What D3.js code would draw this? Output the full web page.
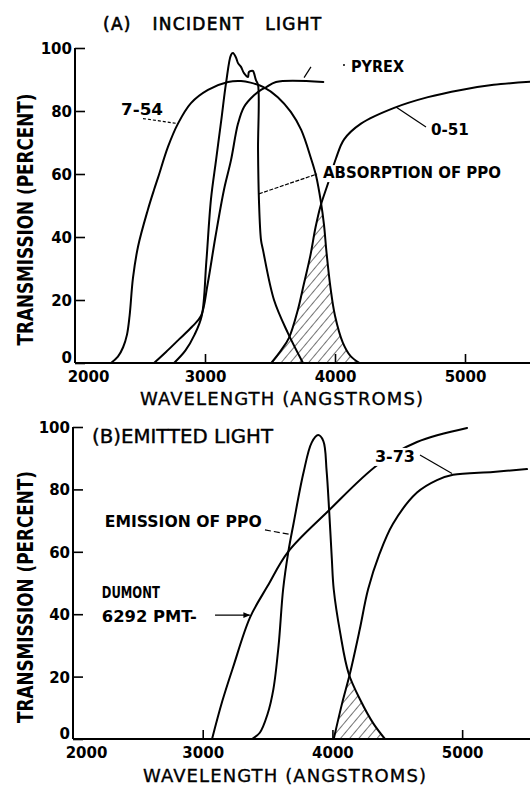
<!DOCTYPE html>
<html>
<head>
<meta charset="utf-8">
<script src="https://cdn.jsdelivr.net/npm/d3@7"></script>
<style>
  html, body { margin: 0; padding: 0; background: #fff; }
  svg { display: block; }
</style>
</head>
<body>
<svg id="chart" width="530" height="787"></svg>
<script>
// Axis ticks shared by both panels
const wavelengthTicks = [2000, 3000, 4000, 5000];
const percentTicks = [0, 20, 40, 60, 80, 100];

// (A) Incident light — [wavelength (Å), transmission (%)]
const filter754 = [
  [2277, 0], [2330, 2], [2370, 5], [2400, 9], [2420, 15], [2446, 27], [2485, 37],
  [2560, 48.6], [2608, 55], [2640, 59], [2715, 68.6], [2792, 76], [2892, 82.5],
  [3023, 86.7], [3177, 89.2], [3277, 89.5], [3350, 89], [3450, 87.6], [3560, 84.4],
  [3660, 79.7], [3740, 74], [3815, 65], [3854, 59.5], [3892, 51], [3915, 44],
  [3935, 35], [3965, 24], [4000, 15], [4060, 6.5], [4120, 2.2], [4190, 0]
];
const pyrexGlass = [
  [2608, 0], [2700, 3.5], [2800, 7.5], [2900, 11.5], [2970, 15], [3020, 25],
  [3080, 40], [3146, 55], [3200, 64.4], [3254, 76], [3300, 81.3], [3377, 85],
  [3431, 86.7], [3469, 87.5], [3546, 89.2], [3910, 89.2]
];
const ppoAbsorption = [
  [2762, 0], [2850, 4], [2920, 9], [2975, 15], [3010, 32], [3046, 52],
  [3085, 64.4], [3125, 77], [3162, 88.9], [3200, 97.8], [3215, 98.4], [3238, 97],
  [3254, 95.2], [3277, 94], [3300, 92], [3331, 90.8], [3338, 92.4], [3369, 92.7],
  [3377, 92], [3392, 89.8], [3408, 88.3], [3408, 67.6], [3415, 51.7], [3431, 39],
  [3446, 35.9], [3531, 20], [3638, 9.5], [3754, 0]
];
const filter051 = [
  [3510, 0], [3585, 4], [3646, 8], [3715, 17], [3760, 25], [3810, 34], [3850, 43],
  [3890, 50], [3946, 57], [4008, 65], [4070, 71], [4200, 76], [4455, 81],
  [4715, 84.4], [4970, 86.7], [5220, 88.3], [5500, 89.3]
];

// (B) Emitted light — [wavelength (Å), transmission (%)]
const ppoEmission = [
  [3380, 0], [3440, 2], [3500, 8], [3545, 16], [3585, 30], [3620, 48], [3660, 60],
  [3700, 69], [3775, 85], [3840, 95], [3890, 97.4], [3930, 95.5], [3955, 86],
  [3975, 73], [3995, 58], [4010, 48], [4060, 34], [4125, 21], [4215, 12.5],
  [4315, 5], [4405, 0]
];
const dumont6292 = [
  [3072, 0], [3150, 12], [3234, 23], [3365, 39], [3500, 49], [3658, 60],
  [3966, 73], [4352, 88], [4652, 95.2], [5038, 99.7]
];
const filter373 = [
  [4010, 0], [4075, 11.5], [4135, 21], [4210, 35], [4275, 48], [4360, 59],
  [4467, 69], [4652, 79], [4806, 83], [4930, 84.7], [5238, 85.6], [5500, 86.5]
];

const svg = d3.select("#chart");
const defs = svg.append("defs");

defs.append("pattern")
  .attr("id", "hatch")
  .attr("patternUnits", "userSpaceOnUse")
  .attr("width", 7).attr("height", 7)
  .attr("patternTransform", "rotate(40)")
  .append("line")
  .attr("x1", 0).attr("y1", 0).attr("x2", 0).attr("y2", 7)
  .attr("stroke", "#000").attr("stroke-width", 1.1);

defs.append("marker")
  .attr("id", "arrow")
  .attr("viewBox", "0 0 10 10")
  .attr("refX", 9).attr("refY", 5)
  .attr("markerWidth", 7).attr("markerHeight", 7)
  .attr("markerUnits", "userSpaceOnUse")
  .attr("orient", "auto")
  .append("path")
  .attr("d", "M0,1 L10,5 L0,9 Z")
  .attr("fill", "#000");

const LABEL_FONT = "'DejaVu Sans', sans-serif";
const TICK_FONT = "'DejaVu Sans', sans-serif";

function drawPanel(cfg) {
  const g = svg.append("g");
  const x = d3.scaleLinear().domain([2000, 5500]).range([cfg.left, cfg.right]);
  const y = d3.scaleLinear().domain([0, 100]).range([cfg.bottom, cfg.top]);

  const line = d3.line()
    .x(d => x(d[0])).y(d => y(d[1]))
    .curve(d3.curveCatmullRom.alpha(0.5));
  const area = d3.area()
    .x(d => x(d[0])).y0(y(0)).y1(d => y(d[1]))
    .curve(d3.curveCatmullRom.alpha(0.5));

  // Overlap of the two filter passbands, hatched
  const clipId = "clip-" + cfg.id;
  defs.append("clipPath").attr("id", clipId)
    .append("path").attr("d", area(cfg.overlap[0]));
  g.append("path")
    .attr("d", area(cfg.overlap[1]))
    .attr("fill", "url(#hatch)")
    .attr("clip-path", `url(#${clipId})`);

  // Axes
  const yAxis = d3.axisLeft(y).tickValues(percentTicks)
    .tickFormat(d3.format("d"))
    .tickSize(-10).tickSizeOuter(0).tickPadding(3);
  const gy = g.append("g").attr("transform", `translate(${cfg.left},0)`).call(yAxis);
  const xAxis = d3.axisBottom(x).tickValues(wavelengthTicks)
    .tickFormat(d3.format("d"))
    .tickSize(-9).tickSizeOuter(0).tickPadding(8);
  const gx = g.append("g").attr("transform", `translate(0,${cfg.bottom})`).call(xAxis);

  [gx, gy].forEach(a => {
    a.select(".domain").attr("stroke", "#000").attr("stroke-width", 2);
    a.selectAll(".tick line").attr("stroke", "#000").attr("stroke-width", 1.6);
    a.selectAll(".tick text")
      .attr("fill", "#000")
      .style("font-family", TICK_FONT)
      .style("font-weight", "bold")
      .style("font-size", "15px");
  });
  gx.selectAll(".tick").filter(d => d === 2000).select("line").remove();
  gx.selectAll(".tick text").attr("dx", d => d === 2000 ? 13 : 0);
  gy.selectAll(".tick text").attr("dy", d => d === 0 ? "-0.05em" : "0.36em");
  // x axis runs on to the page edge
  gx.select(".domain").attr("d", `M${cfg.left},0H530`);
  gy.select(".domain").attr("d", `M0,${cfg.bottom}V${cfg.top}`);

  // Curves
  cfg.series.forEach(s => {
    g.append("path")
      .attr("d", line(s))
      .attr("fill", "none")
      .attr("stroke", "#000")
      .attr("stroke-width", 2)
      .attr("stroke-linejoin", "round")
      .attr("stroke-linecap", "round");
  });

  // Axis titles
  g.append("text")
    .attr("transform", `translate(33,${(cfg.top + cfg.bottom) / 2 + 14}) rotate(-90)`)
    .attr("text-anchor", "middle")
    .attr("textLength", 252)
    .attr("lengthAdjust", "spacingAndGlyphs")
    .style("font-family", LABEL_FONT)
    .style("font-weight", "bold")
    .style("font-size", "21px")
    .text("TRANSMISSION (PERCENT)");

  g.append("text")
    .attr("x", cfg.xTitle[0]).attr("y", cfg.xTitle[1])
    .attr("textLength", 283)
    .attr("lengthAdjust", "spacing")
    .attr("stroke", "#000").attr("stroke-width", 0.35)
    .style("font-family", LABEL_FONT)
    .style("font-size", "18px")
    .text("WAVELENGTH (ANGSTROMS)");

  return { g, x, y };
}

function label(g, px, py, str, opts) {
  const t = g.append("text")
    .attr("x", px).attr("y", py)
    .style("font-family", LABEL_FONT)
    .style("font-weight", opts.weight || "bold")
    .style("font-size", (opts.size || 15) + "px")
    .text(str);
  if (opts.width) t.attr("textLength", opts.width).attr("lengthAdjust", opts.adjust || "spacingAndGlyphs");
  if (opts.wordSpacing) t.style("word-spacing", opts.wordSpacing + "px");
  if (opts.letterSpacing) t.style("letter-spacing", opts.letterSpacing + "px");
  if (opts.stroke) t.attr("stroke", "#000").attr("stroke-width", opts.stroke);
  if (opts.knockout) {
    const b = t.node().getBBox();
    g.insert("rect", () => t.node())
      .attr("x", b.x - 2).attr("y", b.y + 1)
      .attr("width", b.width + 4).attr("height", b.height - 1)
      .attr("fill", "#fff");
  }
  return t;
}

function leader(g, p1, p2, dash, marker) {
  const l = g.append("line")
    .attr("x1", p1[0]).attr("y1", p1[1])
    .attr("x2", p2[0]).attr("y2", p2[1])
    .attr("stroke", "#000").attr("stroke-width", 1.2);
  if (dash) l.attr("stroke-dasharray", dash);
  if (marker) l.attr("marker-end", "url(#arrow)");
  return l;
}

// ---- Panel A: incident light ----
const A = drawPanel({
  id: "a", left: 75, right: 530, top: 48, bottom: 363,
  series: [filter754, pyrexGlass, ppoAbsorption, filter051],
  overlap: [filter754, filter051],
  xTitle: [140, 405]
});
{
  const { g, x, y } = A;
  label(g, 103, 30, "(A) INCIDENT LIGHT", { size: 17, weight: "normal", stroke: 0.6, letterSpacing: 1.3, wordSpacing: 14 });

  label(g, x(2354), y(78.7), "7-54", { size: 16, width: 42 });
  leader(g, [x(2523), y(77.6)], [x(2792), y(76)], "3,2");

  label(g, x(4123), y(92.4), "PYREX", { size: 15, width: 53 });
  g.append("circle").attr("cx", x(4069)).attr("cy", y(94.6)).attr("r", 1).attr("fill", "#000");
  leader(g, [x(3762), y(90.6)], [x(3815), y(94)]);

  label(g, x(4738), y(72.4), "0-51", { size: 15, width: 38 });
  leader(g, [x(4469), y(81.3)], [x(4700), y(74.9)]);

  label(g, x(3908), y(58.7), "ABSORPTION OF PPO", { size: 15, width: 178, knockout: true });
  leader(g, [x(3415), y(53.7)], [x(3862), y(60)], "4,1.5");
}

// ---- Panel B: emitted light ----
const B = drawPanel({
  id: "b", left: 73, right: 527, top: 427, bottom: 739,
  series: [ppoEmission, dumont6292, filter373],
  overlap: [ppoEmission, filter373],
  xTitle: [143, 782]
});
{
  const { g, x, y } = B;
  label(g, 92, 443, "(B)EMITTED LIGHT", { size: 19, weight: "normal", width: 181, stroke: 0.4 });

  label(g, x(2245), y(68), "EMISSION OF PPO", { size: 15.5, width: 157 });
  leader(g, [x(3480), y(67)], [x(3685), y(65.5)], "6,3");

  label(g, x(2222), y(45.2), "DUMONT", { size: 15.5, width: 58 });
  label(g, x(2222), y(37.5), "6292 PMT-", { size: 16, width: 95 });
  leader(g, [x(3095), y(39.7)], [x(3362), y(39.7)], null, true);

  label(g, x(4328), y(88.8), "3-73", { size: 16, width: 40, knockout: true });
  leader(g, [x(4675), y(91)], [x(4922), y(85.1)]);
}
</script>
</body>
</html>
